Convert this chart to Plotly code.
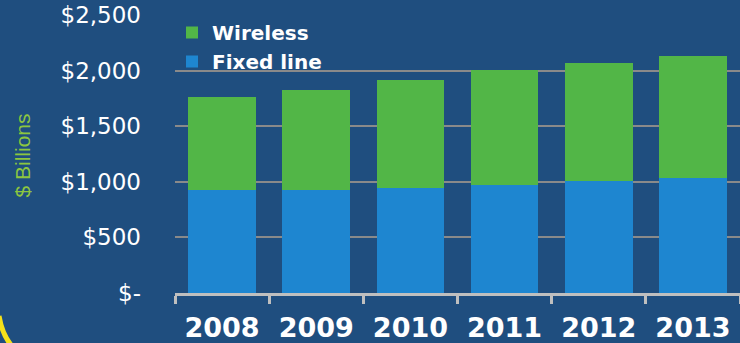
import plotly.graph_objects as go

years = ["2008", "2009", "2010", "2011", "2012", "2013"]
fixed_line = [923, 923, 941, 968, 1005, 1032]
wireless = [838, 901, 973, 1037, 1063, 1099]
ytick_vals = [0, 500, 1000, 1500, 2000, 2500]
ytick_text = ["$-", "$500", "$1,000", "$1,500", "$2,000", "$2,500"]

W, H = 740, 343
L, R, T, B = 175, 0, 15, 50
pw, ph = W - L - R, H - T - B

def px(x):
    return (x - L) / pw

def py(y):
    return (H - B - y) / ph

fig = go.Figure()
fig.add_trace(go.Bar(name="Fixed line", x=years, y=fixed_line,
                     marker=dict(color="#1E86D0", line=dict(width=0))))
fig.add_trace(go.Bar(name="Wireless", x=years, y=wireless,
                     marker=dict(color="#52B647", line=dict(width=0))))

fig.update_layout(
    width=W, height=H,
    margin=dict(l=L, r=R, t=T, b=B, pad=0),
    paper_bgcolor="#1F4E7F", plot_bgcolor="#1F4E7F",
    barmode="stack", bargap=0.28,
    showlegend=True,
    legend=dict(x=px(172), y=py(13), xanchor="left", yanchor="top",
                traceorder="reversed", bgcolor="rgba(0,0,0,0)",
                font=dict(family="DejaVu Sans", size=20, color="white", weight="bold"),
                itemwidth=30, tracegroupgap=0),
    xaxis=dict(
        type="category", range=[-0.5, 5.5],
        showline=True, linecolor="#BFBFBF", linewidth=3,
        ticks="outside", tickson="boundaries", ticklen=8, tickwidth=3, tickcolor="#BFBFBF",
        tickfont=dict(family="DejaVu Sans", size=27, color="white", weight="bold"),
        ticklabelstandoff=9, showgrid=False, zeroline=False,
    ),
    yaxis=dict(
        range=[0, 2500], tickvals=ytick_vals, ticktext=ytick_text,
        showgrid=True, gridcolor="#8A8A8A", gridwidth=2,
        zeroline=False, showline=False, ticks="",
        tickfont=dict(family="DejaVu Sans", size=23, color="white"),
        ticklabelstandoff=33,
    ),
    annotations=[dict(text="$ Billions", xref="paper", yref="paper",
                      x=px(21.5), y=py(156), xanchor="center", yanchor="middle",
                      textangle=-90, showarrow=False,
                      font=dict(family="Liberation Sans", size=21, color="#8DC63F"))],
    shapes=[dict(type="path", xref="paper", yref="paper",
                 path=f"M {px(-1)},{py(316)} Q {px(2)},{py(334)} {px(11)},{py(345)}",
                 line=dict(color="#F5E11A", width=5))],
)

fig.write_html("out.html", config={"displayModeBar": False},
               post_script="document.body.style.margin='0';")
